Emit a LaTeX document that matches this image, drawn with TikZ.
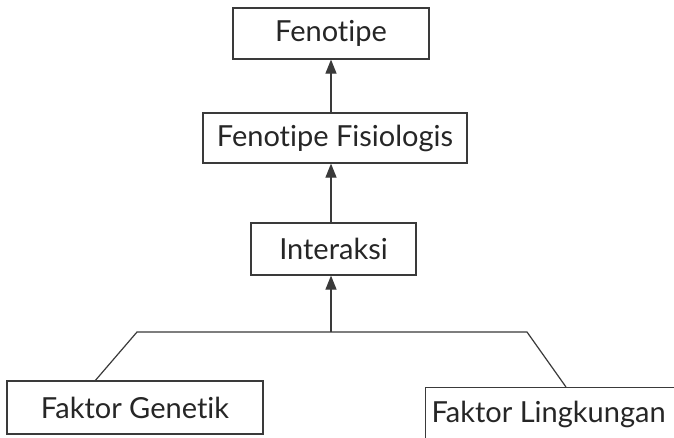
\documentclass[tikz,border=0pt]{standalone}
\usepackage{fontspec}
\setmainfont{Lato}[Ligatures={NoCommon}]
\usetikzlibrary{arrows.meta}
\definecolor{linec}{HTML}{3A3A3A}
\definecolor{textc}{HTML}{262626}
\tikzset{
  box/.style={draw=linec, line width=1.2pt, text=textc, font=\fontsize{29}{33}\selectfont, inner sep=0pt},
  conn/.style={draw=linec, line width=1.2pt},
  arr/.style={conn, -{Triangle[length=14pt,width=11pt]}},
}
\begin{document}
\begin{tikzpicture}[x=1pt,y=-1pt]
\useasboundingbox (0,0) rectangle (674,437);
\clip (0,0) rectangle (674,437);
\fill[white] (0,0) rectangle (674,437);
\node[box, minimum width=196pt, minimum height=51pt] (fen) at (331,33.5) {Fenotipe};
\node[box, minimum width=264pt, minimum height=50pt] (fis) at (335,138) {Fenotipe Fisiologis};
\node[box, minimum width=165pt, minimum height=52pt] (int) at (333.5,249) {Interaksi};
\node[box, minimum width=256pt, minimum height=53pt] (gen) at (135,407.5) {Faktor Genetik};
\node[box, minimum width=262pt, minimum height=53pt, anchor=north west] (lin) at (425,387) {Faktor Lingkungan\hspace*{16pt}};
\coordinate (j) at (331,332);
\coordinate (hl) at (137,332);
\coordinate (hr) at (527,332);
\draw[arr] (fis.north -| fen.south) -- (fen.south);
\draw[arr] (int.north -| fen.south) -- (fis.south -| fen.south);
\draw[arr] (j) -- (int.south -| j);
\draw[conn] ([xshift=89pt]gen.north west) -- (hl) -- (hr) -- ([xshift=141pt]lin.north west);
\end{tikzpicture}
\end{document}
